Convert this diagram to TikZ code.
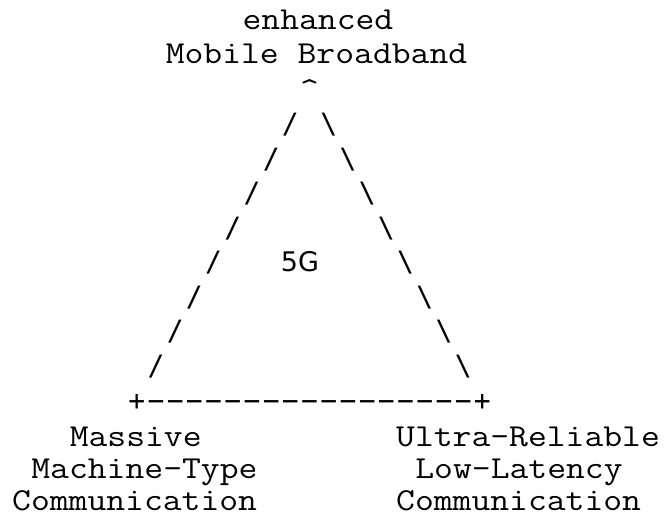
\documentclass[tikz,border=0pt]{standalone}
\usepackage{fontspec}
\usepackage{graphicx}
\usepackage{tikz}
\newfontfamily\glyphfamily{DejaVu Sans Mono}
\newfontfamily\midfamily{DejaVu Sans}
\newcommand{\asciifont}{\ttfamily\fontsize{32}{34}\selectfont}
\newcommand{\glyphfont}{\glyphfamily\fontsize{28}{28}\selectfont}
\newcommand{\widett}[1]{\scalebox{1.143}[1]{#1}}

\begin{document}
\begin{tikzpicture}[x=1pt, y=-1pt,
			txt/.style={font=\asciifont, inner sep=0pt, anchor=base west},
			glyph/.style={font=\glyphfont, inner sep=0pt, anchor=base}]
			\useasboundingbox (0,0) rectangle (666,517);
			% grid: column k starts at 12+19.2k
			\node[txt](enh) at (242.4, 29.5) {\widett{enhanced}};
			\node[txt](mbb) at (165.6, 63.5) {\widett{Mobile Broadband}};
			\node[font=\asciifont, inner sep=0pt, anchor=base](apex) at (309.6, 99) {\widett{\textasciicircum}};
			
			\foreach \r in {3,...,10}{
				\node[glyph](sl\r) at ({21.6+(17-\r)*19.2}, {30+\r*34.55}) {/};
				\node[glyph](sr\r) at ({21.6+(13+\r)*19.2}, {30+\r*34.55}) {\textbackslash};
			}
			
			\node[glyph](cl) at (136.8, 410) {+};
			\node[glyph](cr) at (482.4, 410) {+};
			\foreach \k in {7,...,23}
				\node[glyph](base\k) at ({21.6+\k*19.2}, 410) {\symbol{"2212}};
			
			\node[font=\midfamily\fontsize{27}{27}\selectfont, inner sep=0pt, anchor=base](core) at (300, 271.9) {5G};
			
			\node[txt](mas) at (69.6, 446) {\widett{Massive}};
			\node[txt](mtype) at (31.2, 478.5) {\widett{Machine-Type}};
			\node[txt](mcom) at (12, 510) {\widett{Communication}};
			
			\node[txt](urel) at (396, 446) {\widett{Ultra-Reliable}};
			\node[txt](lowlat) at (415.2, 478.5) {\widett{Low-Latency}};
			\node[txt](ucom) at (396, 510) {\widett{Communication}};
			
		\end{tikzpicture}
\end{document}
